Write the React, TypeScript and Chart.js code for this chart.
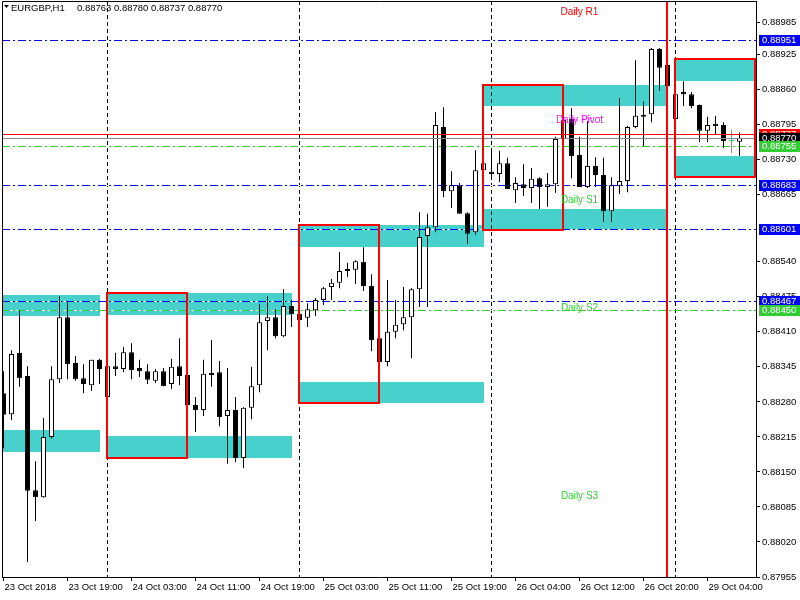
import React, { useEffect, useRef } from "react";
import { Chart, registerables } from "chart.js";

Chart.register(...registerables);

// ---------- data ----------
const symbolTitle = "EURGBP,H1";
const headerValues = ["0.88763", "0.88780", "0.88737", "0.88770"];

const opens = [0.88296,0.88257,0.88371,0.88328,0.88116,0.88103,0.88215,0.88322,0.88437,0.88352,
0.88324,0.88311,0.88358,0.88289,0.88346,0.88341,0.88372,0.88343,0.88337,0.88319,
0.88337,0.88313,0.88346,0.88330,0.88274,0.88265,0.88334,0.88335,0.88254,0.88265,
0.88176,0.88269,0.88311,0.88430,0.88437,0.88402,0.88458,0.88443,0.88436,0.88450,
0.88469,0.88493,0.88501,0.88523,0.88525,0.88540,0.88495,0.88398,0.88354,0.88410,
0.88424,0.88437,0.88489,0.88588,0.88604,0.88790,0.88671,0.88682,0.88630,0.88595,
0.88710,0.88707,0.88703,0.88723,0.88673,0.88684,0.88677,0.88695,0.88679,0.88684,
0.88768,0.88805,0.88738,0.88679,0.88718,0.88701,0.88634,0.88681,0.88690,0.88790,
0.88812,0.88814,0.88935,0.88905,0.88805,0.88855,0.88851,0.88831,0.88783,0.88796,
0.88794,0.88764,0.88763];

const highs = [0.88337,0.88376,0.88450,0.88346,0.88170,0.88250,0.88346,0.88476,0.88465,0.88365,
0.88350,0.88358,0.88360,0.88374,0.88371,0.88382,0.88389,0.88358,0.88350,0.88341,
0.88343,0.88360,0.88398,0.88441,0.88289,0.88358,0.88395,0.88356,0.88343,0.88289,
0.88270,0.88345,0.88462,0.88476,0.88452,0.88489,0.88469,0.88445,0.88463,0.88473,
0.88493,0.88508,0.88558,0.88538,0.88543,0.88567,0.88517,0.88426,0.88506,0.88469,
0.88493,0.88491,0.88632,0.88629,0.88818,0.88827,0.88708,0.88686,0.88632,0.88747,
0.88753,0.88744,0.88746,0.88733,0.88697,0.88721,0.88714,0.88697,0.88705,0.88772,
0.88827,0.88825,0.88772,0.88801,0.88734,0.88733,0.88697,0.88844,0.88792,0.88914,
0.88838,0.88937,0.88937,0.88924,0.88859,0.88875,0.88855,0.88832,0.88809,0.88811,
0.88799,0.88785,0.88780];

const lows = [0.88194,0.88246,0.88308,0.87983,0.88059,0.88102,0.88211,0.88315,0.88322,0.88319,
0.88296,0.88300,0.88313,0.88278,0.88328,0.88335,0.88322,0.88326,0.88313,0.88315,
0.88309,0.88304,0.88311,0.88215,0.88224,0.88254,0.88308,0.88235,0.88165,0.88168,
0.88157,0.88248,0.88298,0.88376,0.88398,0.88400,0.88419,0.88367,0.88419,0.88439,
0.88460,0.88469,0.88491,0.88512,0.88499,0.88486,0.88374,0.88346,0.88346,0.88398,
0.88413,0.88361,0.88456,0.88456,0.88595,0.88660,0.88640,0.88629,0.88573,0.88590,
0.88695,0.88694,0.88688,0.88675,0.88649,0.88662,0.88649,0.88638,0.88642,0.88668,
0.88733,0.88695,0.88679,0.88677,0.88679,0.88614,0.88614,0.88666,0.88669,0.88788,
0.88755,0.88799,0.88857,0.88849,0.88799,0.88829,0.88825,0.88762,0.88762,0.88777,
0.88751,0.88742,0.88737];

const closes = [0.88256,0.88369,0.88324,0.88115,0.88103,0.88215,0.88322,0.88437,0.88350,0.88322,
0.88313,0.88358,0.88341,0.88346,0.88341,0.88372,0.88339,0.88337,0.88321,0.88337,
0.88309,0.88345,0.88328,0.88274,0.88265,0.88332,0.88330,0.88252,0.88265,0.88176,
0.88269,0.88309,0.88428,0.88437,0.88402,0.88458,0.88443,0.88432,0.88452,0.88469,
0.88491,0.88501,0.88523,0.88525,0.88541,0.88495,0.88395,0.88354,0.88410,0.88423,
0.88437,0.88489,0.88586,0.88604,0.88794,0.88671,0.88682,0.88629,0.88592,0.88710,
0.88723,0.88703,0.88723,0.88675,0.88686,0.88677,0.88694,0.88679,0.88684,0.88768,
0.88803,0.88736,0.88679,0.88718,0.88701,0.88634,0.88682,0.88690,0.88790,0.88811,
0.88809,0.88935,0.88900,0.88866,0.88851,0.88851,0.88829,0.88783,0.88794,0.88792,
0.88764,0.88764,0.88770];

const xLabelBars = [0, 8, 16, 24, 32, 40, 48, 56, 64, 72, 80, 88];
const xLabels = ["23 Oct 2018", "23 Oct 19:00", "24 Oct 03:00", "24 Oct 11:00", "24 Oct 19:00",
  "25 Oct 03:00", "25 Oct 11:00", "25 Oct 19:00", "26 Oct 04:00", "26 Oct 12:00", "26 Oct 20:00", "29 Oct 04:00"];
const yTicks = [0.88985, 0.88925, 0.8886, 0.88795, 0.8873, 0.88665, 0.8854, 0.88475, 0.8841,
  0.88345, 0.8828, 0.88215, 0.8815, 0.88085, 0.8802, 0.87955];

// supply / demand zones (filled)
const zoneStart = [0, 0, 13, 13, 37, 37, 60, 60, 84, 84];
const zoneEnd = [12, 12, 36, 36, 60, 60, 83, 83, 95, 95];
const zoneTop = [0.88228, 0.88478, 0.88483, 0.88217, 0.88608, 0.88317, 0.88869, 0.88638, 0.88916, 0.88736];
const zoneBottom = [0.88187, 0.8844, 0.88442, 0.88176, 0.88568, 0.88277, 0.8883, 0.88599, 0.88876, 0.88697];

// red outlined rectangles
const frameStart = [13, 37, 60, 84];
const frameEnd = [23, 47, 70, 94];
const frameTop = [0.88483, 0.88608, 0.88869, 0.88916];
const frameBottom = [0.88176, 0.88277, 0.88599, 0.88697];

const separatorBars = [13, 37, 61, 84];
const markerBar = 83;

const levelPrices = [0.88951, 0.88683, 0.88601, 0.88467, 0.88755, 0.8845];
const askPrice = 0.88777;
const bidPrice = 0.8877;

const pivotNames = ["Daily R1", "Daily Pivot", "Daily S1", "Daily S2", "Daily S3"];
const pivotPrices = [0.89004, 0.88802, 0.88654, 0.88454, 0.88105];
const pivotBar = 72;

const tagPrices = [0.88951, 0.88683, 0.88601, 0.88467, 0.8845, 0.88777, 0.8877, 0.88755];

// ---------- styles ----------
const BLUE = "#0000FF";
const GREEN = "#32CD32";
const RED = "#FF0000";
const MAGENTA = "#FF00FF";
const CYAN = "#48D1CC";
const BIDGRAY = "#7F8A96";
const levelColors = [BLUE, BLUE, BLUE, BLUE, GREEN, GREEN];
const pivotColors = [RED, MAGENTA, GREEN, GREEN, GREEN];
const tagColors = [BLUE, BLUE, BLUE, BLUE, GREEN, RED, "#000000", GREEN];
const FONT = '"Liberation Sans", Arial, sans-serif';

const objectsPlugin = {
  id: "mtObjects",
  beforeDatasetsDraw(chart: any) {
    const { ctx, chartArea: a, scales } = chart;
    const xs = scales.x, ys = scales.y;
    ctx.save();
    ctx.beginPath();
    ctx.rect(a.left, a.top, a.right - a.left, a.bottom - a.top);
    ctx.clip();
    ctx.fillStyle = CYAN;
    zoneStart.forEach((s, i) => {
      const x1 = Math.floor(xs.getPixelForValue(s));
      const x2 = Math.floor(xs.getPixelForValue(zoneEnd[i])) + 1;
      const y1 = Math.round(ys.getPixelForValue(zoneTop[i]));
      const y2 = Math.round(ys.getPixelForValue(zoneBottom[i]));
      ctx.fillRect(x1, y1, x2 - x1, y2 - y1);
    });
    ctx.lineWidth = 1;
    ctx.strokeStyle = "#000";
    ctx.setLineDash([4, 3]);
    separatorBars.forEach((b) => {
      const px = Math.floor(xs.getPixelForValue(b)) + 0.5;
      ctx.beginPath();
      ctx.moveTo(px, a.top);
      ctx.lineTo(px, a.bottom);
      ctx.stroke();
    });
    levelPrices.forEach((p, i) => {
      const py = Math.round(ys.getPixelForValue(p)) + 0.5;
      ctx.setLineDash([]);
      ctx.strokeStyle = "#fff";
      ctx.beginPath(); ctx.moveTo(a.left, py); ctx.lineTo(a.right, py); ctx.stroke();
      ctx.setLineDash([8, 3, 2, 3]);
      ctx.strokeStyle = levelColors[i];
      ctx.beginPath(); ctx.moveTo(a.left, py); ctx.lineTo(a.right, py); ctx.stroke();
    });
    ctx.restore();
  },
  afterDatasetsDraw(chart: any) {
    const { ctx, chartArea: a, scales } = chart;
    const xs = scales.x, ys = scales.y;
    ctx.save();
    ctx.beginPath();
    ctx.rect(a.left, a.top, a.right - a.left, a.bottom - a.top);
    ctx.clip();
    ctx.setLineDash([]);
    ctx.lineWidth = 1;
    const ay = Math.round(ys.getPixelForValue(askPrice)) + 0.5;
    ctx.strokeStyle = RED;
    ctx.beginPath(); ctx.moveTo(a.left, ay); ctx.lineTo(a.right, ay); ctx.stroke();
    const by = Math.round(ys.getPixelForValue(bidPrice)) + 0.5;
    ctx.strokeStyle = BIDGRAY;
    ctx.beginPath(); ctx.moveTo(a.left, by); ctx.lineTo(a.right, by); ctx.stroke();

    ctx.lineWidth = 2;
    ctx.strokeStyle = RED;
    frameStart.forEach((s, i) => {
      const x1 = Math.floor(xs.getPixelForValue(s));
      const x2 = Math.floor(xs.getPixelForValue(frameEnd[i]));
      const y1 = Math.round(ys.getPixelForValue(frameTop[i]));
      const y2 = Math.round(ys.getPixelForValue(frameBottom[i]));
      ctx.strokeRect(x1, y1, x2 - x1, y2 - y1);
    });
    const mx = Math.floor(xs.getPixelForValue(markerBar));
    ctx.beginPath(); ctx.moveTo(mx, a.top); ctx.lineTo(mx, a.bottom); ctx.stroke();

    ctx.font = `10px ${FONT}`;
    ctx.textAlign = "center";
    ctx.textBaseline = "middle";
    pivotNames.forEach((n, i) => {
      ctx.fillStyle = pivotColors[i];
      ctx.fillText(n, xs.getPixelForValue(pivotBar), ys.getPixelForValue(pivotPrices[i]));
    });
    ctx.restore();
  },
  afterDraw(chart: any) {
    const { ctx, chartArea: a, scales } = chart;
    const ys = scales.y;
    ctx.save();
    ctx.strokeStyle = "#000";
    ctx.lineWidth = 1;
    ctx.beginPath();
    ctx.moveTo(a.left + 0.5, a.bottom);
    ctx.lineTo(a.left + 0.5, a.top + 0.5);
    ctx.lineTo(a.right, a.top + 0.5);
    ctx.stroke();
    // header
    ctx.fillStyle = "#000";
    ctx.beginPath();
    ctx.moveTo(4, 5); ctx.lineTo(9, 5); ctx.lineTo(6.5, 8); ctx.closePath(); ctx.fill();
    ctx.font = `9.5px ${FONT}`;
    ctx.textAlign = "left";
    ctx.textBaseline = "middle";
    ctx.fillText(symbolTitle, 11, 8);
    ctx.fillText(headerValues.join(" "), 77, 8);
    // price tags
    tagPrices.forEach((p, i) => {
      const py = Math.round(ys.getPixelForValue(p));
      ctx.fillStyle = tagColors[i];
      ctx.fillRect(a.right + 3, py - 5, 41, 11);
      ctx.fillStyle = "#fff";
      ctx.fillText(p.toFixed(5), a.right + 6, py + 0.5);
    });
    ctx.restore();
  },
};

export default function App() {
  const ref = useRef<HTMLCanvasElement>(null);
  useEffect(() => {
    document.body.style.margin = "0";
    const canvas = ref.current!;
    Chart.defaults.font.family = FONT;
    const idx = opens.map((_, i) => i);
    const wickColors = idx.map((i) => (opens[i] === closes[i] ? GREEN : "#000"));
    const bodyIdx = idx.filter((i) => opens[i] !== closes[i]);
    const dojiIdx = idx.filter((i) => opens[i] === closes[i]);
    const chart = new Chart(canvas, {
      type: "bar",
      data: {
        datasets: [
          {
            type: "bar",
            label: "wick",
            data: idx.map((i) => ({ x: i, y: [lows[i], highs[i]] })) as any,
            backgroundColor: wickColors,
            borderWidth: 0,
            barThickness: 1,
            grouped: false,
            inflateAmount: 0,
            order: 2,
          } as any,
          {
            type: "bar",
            label: "body",
            data: bodyIdx.map((i) => ({ x: i, y: [opens[i], closes[i]] })) as any,
            backgroundColor: bodyIdx.map((i) => (closes[i] > opens[i] ? "#fff" : "#000")),
            borderColor: "#000",
            borderWidth: 1,
            borderSkipped: false,
            barThickness: 5,
            grouped: false,
            inflateAmount: 0,
            minBarLength: 2,
            order: 1,
          } as any,
          {
            type: "bar",
            label: "doji",
            data: dojiIdx.map((i) => ({ x: i, y: [opens[i], closes[i]] })) as any,
            backgroundColor: GREEN,
            borderWidth: 0,
            barThickness: 5,
            grouped: false,
            inflateAmount: 0,
            minBarLength: 1,
            order: 0,
          } as any,
        ],
      },
      options: {
        responsive: false,
        devicePixelRatio: 1,
        animation: false,
        layout: { padding: { left: 2, top: 1, right: 0, bottom: 0 } },
        plugins: { legend: { display: false }, tooltip: { enabled: false } },
        events: [],
        scales: {
          x: {
            type: "linear",
            min: -0.1875,
            max: 94.0625,
            offset: false,
            grid: { display: true, drawOnChartArea: false, drawTicks: true, tickLength: 4, tickColor: "#000", offset: false },
            border: { display: true, color: "#000", width: 1 },
            ticks: {
              autoSkip: false,
              maxRotation: 0,
              minRotation: 0,
              align: "start",
              labelOffset: 1,
              padding: 1,
              color: "#000",
              font: { size: 9.5, family: FONT },
              callback: (v: any) => xLabels[xLabelBars.indexOf(Number(v))] ?? "",
            },
            afterBuildTicks: (s: any) => {
              s.ticks = xLabelBars.map((v) => ({ value: v }));
            },
            afterFit: (s: any) => {
              s.height = 23;
              s.paddingLeft = 0;
              s.paddingRight = 0;
            },
          } as any,
          y: {
            type: "linear",
            position: "right",
            min: 0.87955,
            max: 0.89024,
            grid: { display: true, drawOnChartArea: false, drawTicks: true, tickLength: 4, tickColor: "#000" },
            border: { display: true, color: "#000", width: 1 },
            ticks: {
              autoSkip: false,
              padding: 2,
              color: "#000",
              font: { size: 9.5, family: FONT },
              callback: (v: any) => Number(v).toFixed(5),
            },
            afterBuildTicks: (s: any) => {
              s.ticks = yTicks.map((v) => ({ value: v }));
            },
            afterFit: (s: any) => {
              s.width = 44;
              s.paddingTop = 0;
              s.paddingBottom = 0;
            },
          } as any,
        },
      },
      plugins: [objectsPlugin],
    });
    return () => chart.destroy();
  }, []);
  return (
    <div style={{ width: 800, height: 600, background: "#fff" }}>
      <canvas ref={ref} width={800} height={600} style={{ display: "block", width: 800, height: 600 }} />
    </div>
  );
}
